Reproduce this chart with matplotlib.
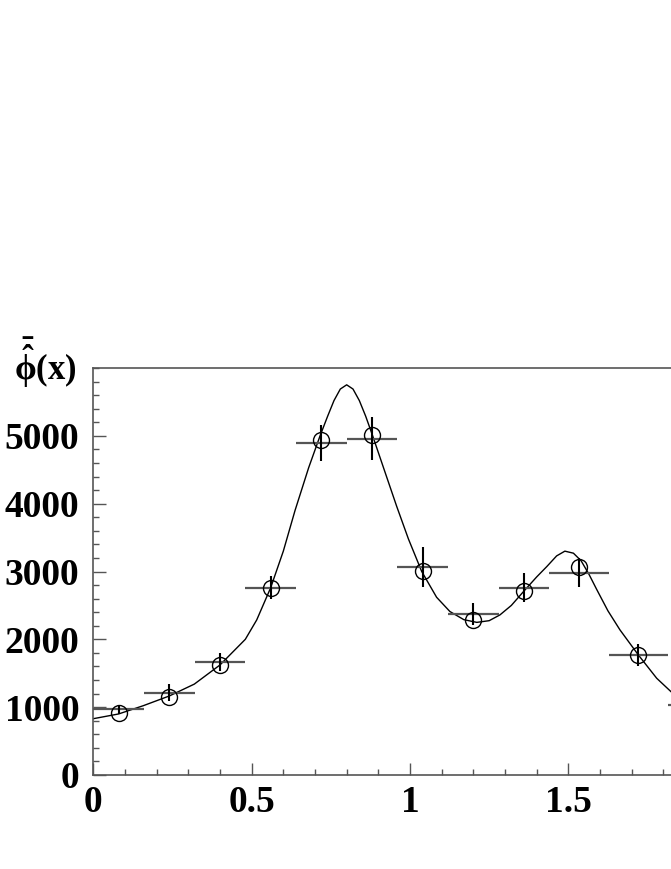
import numpy as np
import matplotlib
matplotlib.use("Agg")
import matplotlib.pyplot as plt
from matplotlib.ticker import MultipleLocator

# bin edges of the histogram (last one runs off the picture)
bin_edges = [0.0, 0.16, 0.32, 0.48, 0.64, 0.80, 0.96, 1.12, 1.28, 1.44, 1.627, 1.814, 2.0]

# crosses: data with errors
data_y = [969, 1214, 1662, 2763, 4901, 4956, 3068, 2375, 2763, 2984, 1770, 1032]
data_err = [65, 130, 130, 165, 265, 315, 300, 160, 210, 210, 160, 100]

# open circles: second set of values in the same bins
circ_y = [910, 1150, 1622, 2753, 4941, 5015, 3013, 2286, 2718, 3073, 1770, 1050]

# fitted curve
curve_x = [0.0, 0.08, 0.158, 0.24, 0.319, 0.40, 0.48, 0.516, 0.56, 0.60, 0.637,
           0.68, 0.716, 0.74, 0.76, 0.78, 0.80, 0.82, 0.84, 0.86, 0.881, 0.92,
           0.958, 0.995, 1.037, 1.084, 1.126, 1.17, 1.211, 1.25, 1.284, 1.32,
           1.361, 1.40, 1.432, 1.463, 1.489, 1.516, 1.54, 1.565, 1.589, 1.625,
           1.663, 1.721, 1.779, 1.824]
curve_y = [830, 900, 1022, 1165, 1340, 1622, 2000, 2286, 2760, 3300, 3900,
           4530, 5000, 5290, 5520, 5690, 5752, 5690, 5520, 5290, 5015, 4480,
           3960, 3480, 3000, 2620, 2410, 2290, 2250, 2275, 2360, 2500,
           2718, 2920, 3073, 3230, 3300, 3270, 3160, 2960, 2740, 2420,
           2139, 1770, 1426, 1229]

plt.rcParams['font.family'] = ['Liberation Serif', 'DejaVu Serif']
plt.rcParams['font.weight'] = 'bold'
plt.rcParams['mathtext.fontset'] = 'custom'
plt.rcParams['mathtext.rm'] = 'Liberation Serif:bold'
plt.rcParams['mathtext.it'] = 'Liberation Serif:bold'
plt.rcParams['mathtext.bf'] = 'Liberation Serif:bold'

edges = np.array(bin_edges)
centers = (edges[:-1] + edges[1:]) / 2
half = (edges[1:] - edges[:-1]) / 2

fig = plt.figure(figsize=(6.71, 8.69), dpi=100)
# axes run past the right edge of the figure, like the reference
ax = fig.add_axes([93.3 / 671, 94 / 869, 633.4 / 671, 407 / 869])

ax.plot(curve_x, curve_y, color='black', lw=1.0)

# horizontal bars (grey) and vertical bars (black)
ax.errorbar(centers, data_y, xerr=half, fmt='none', ecolor='#555555', elinewidth=1.6, capsize=0)
ax.errorbar(centers, data_y, yerr=data_err, fmt='none', ecolor='black', elinewidth=1.5, capsize=0)
ax.plot(centers, circ_y, 'o', mfc='none', mec='black', ms=11.5, mew=1.0)

ax.set_xlim(0, 2.0)
ax.set_ylim(0, 6000)
ax.xaxis.set_minor_locator(MultipleLocator(0.1))
ax.yaxis.set_minor_locator(MultipleLocator(200))
ax.set_xticks([0, 0.5, 1, 1.5])
ax.set_xticklabels(['0', '0.5', '1', '1.5'])
ax.set_yticks([0, 1000, 2000, 3000, 4000, 5000])
ax.set_yticklabels(['0', '1000', '2000', '3000', '4000', '5000'])
ax.tick_params(which='major', direction='in', length=9, width=1, color='#555555',
               labelsize=27, pad=7)
ax.tick_params(which='minor', direction='in', length=4, width=1, color='#555555')
ax.tick_params(axis='y', which='major', pad=10)
for lab in ax.get_xticklabels() + ax.get_yticklabels():
    lab.set_fontweight('bold')
for s in ax.spines.values():
    s.set_color('#555555')
    s.set_linewidth(1.2)

fig.text(14 / 671, 1 - 380 / 869, r'$\bar{\hat{\phi}}\mathrm{(x)}$', fontsize=25,
         ha='left', va='baseline')

fig.savefig('out.png', dpi=100)
